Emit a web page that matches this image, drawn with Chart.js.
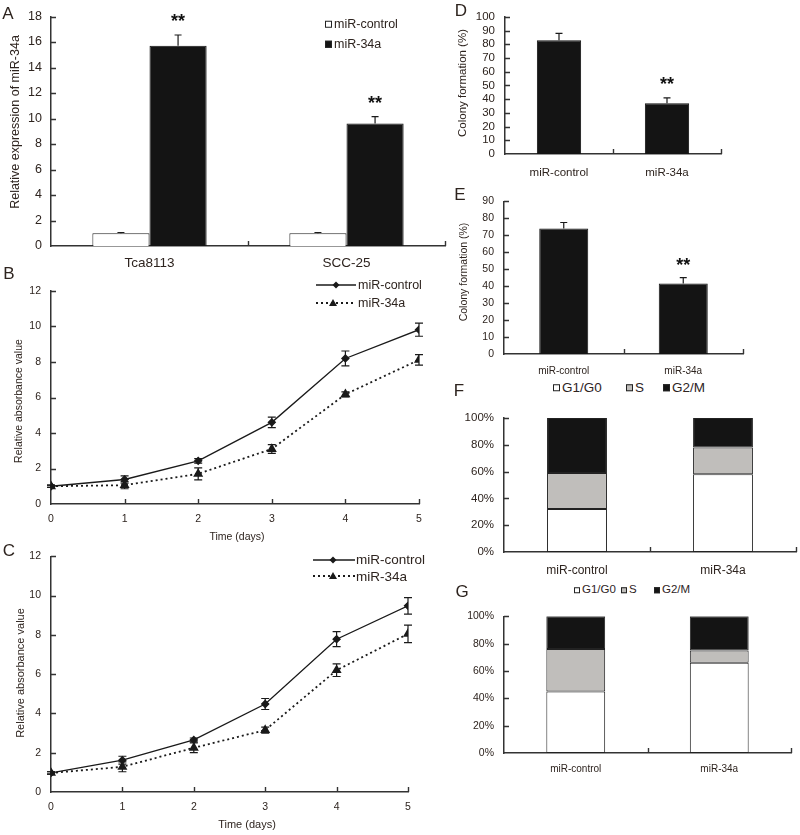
<!DOCTYPE html>
<html><head><meta charset="utf-8">
<script src="https://cdn.jsdelivr.net/npm/chart.js@4"></script>
<style>
body{margin:0;background:#fff;width:800px;height:835px;position:relative;overflow:hidden;font-family:"Liberation Sans",Arial,sans-serif;color:#2e241f}
canvas{position:absolute}
.t{position:absolute;white-space:nowrap;line-height:1;transform:translate(-50%,-50%)}
.r{transform:translate(-50%,-50%) rotate(-90deg)}
.lg{position:absolute;white-space:nowrap;line-height:1;transform:translateY(-50%);display:flex;align-items:center}
.sq{display:inline-block;border:1px solid #222;box-sizing:border-box;margin-right:2px}
</style></head><body>
<canvas id="cA"></canvas><canvas id="cB"></canvas><canvas id="cC"></canvas>
<canvas id="cD"></canvas><canvas id="cE"></canvas><canvas id="cF"></canvas><canvas id="cG"></canvas>

<div class="t" style="left:8px;top:13px;font-size:17px">A</div>
<div class="t" style="left:9px;top:273px;font-size:17px">B</div>
<div class="t" style="left:9px;top:550px;font-size:17px">C</div>
<div class="t" style="left:461px;top:10px;font-size:17px">D</div>
<div class="t" style="left:460px;top:194px;font-size:17px">E</div>
<div class="t" style="left:459px;top:390px;font-size:17px">F</div>
<div class="t" style="left:462px;top:591px;font-size:17px">G</div>

<div class="t r" style="left:15px;top:122px;font-size:12.5px">Relative expression of miR-34a</div>
<div class="t r" style="left:18px;top:401px;font-size:10.5px">Relative absorbance value</div>
<div class="t" style="left:237px;top:536px;font-size:10.5px">Time (days)</div>
<div class="t r" style="left:20px;top:673px;font-size:11px">Relative absorbance value</div>
<div class="t" style="left:247px;top:824px;font-size:11px">Time (days)</div>
<div class="t r" style="left:463px;top:83px;font-size:11.5px">Colony formation (%)</div>
<div class="t r" style="left:463px;top:272px;font-size:10.5px">Colony formation (%)</div>

<!-- legend A -->
<div class="lg" style="left:325px;top:24px;font-size:12.5px"><span class="sq" style="width:7px;height:7px;background:#fff"></span>miR-control</div>
<div class="lg" style="left:325px;top:44px;font-size:12.5px"><span class="sq" style="width:7px;height:7px;background:#141414"></span>miR-34a</div>

<!-- legend B -->
<svg style="position:absolute;left:314px;top:279px" width="44" height="30">
<line x1="2" y1="6" x2="42" y2="6" stroke="#1a1a1a" stroke-width="1.3"/>
<polygon points="22,2.5 25.5,6 22,9.5 18.5,6" fill="#1a1a1a"/>
<line x1="2" y1="24" x2="42" y2="24" stroke="#1a1a1a" stroke-width="1.8" stroke-dasharray="2,3"/>
<polygon points="19,20 23,27 15,27" fill="#1a1a1a"/>
</svg>
<div class="lg" style="left:358px;top:285px;font-size:12.5px">miR-control</div>
<div class="lg" style="left:358px;top:303px;font-size:12.5px">miR-34a</div>

<!-- legend C -->
<svg style="position:absolute;left:311px;top:553px" width="46" height="30">
<line x1="2" y1="7" x2="44" y2="7" stroke="#1a1a1a" stroke-width="1.3"/>
<polygon points="22,3.5 25.5,7 22,10.5 18.5,7" fill="#1a1a1a"/>
<line x1="2" y1="23" x2="44" y2="23" stroke="#1a1a1a" stroke-width="1.8" stroke-dasharray="2,3"/>
<polygon points="22,19 26,26 18,26" fill="#1a1a1a"/>
</svg>
<div class="lg" style="left:356px;top:560px;font-size:13.5px">miR-control</div>
<div class="lg" style="left:356px;top:577px;font-size:13.5px">miR-34a</div>

<!-- legend F -->
<div class="lg" style="left:553px;top:388px;font-size:13.5px"><span class="sq" style="width:7px;height:7px;background:#fff"></span>G1/G0</div>
<div class="lg" style="left:626px;top:388px;font-size:13.5px"><span class="sq" style="width:7px;height:7px;background:#c0bebb"></span>S</div>
<div class="lg" style="left:663px;top:388px;font-size:13.5px"><span class="sq" style="width:7px;height:7px;background:#141414"></span>G2/M</div>
<!-- legend G -->
<div class="lg" style="left:574px;top:590px;font-size:11.5px"><span class="sq" style="width:6px;height:6px;background:#fff"></span>G1/G0</div>
<div class="lg" style="left:621px;top:590px;font-size:11.5px"><span class="sq" style="width:6px;height:6px;background:#c0bebb"></span>S</div>
<div class="lg" style="left:654px;top:590px;font-size:11.5px"><span class="sq" style="width:6px;height:6px;background:#141414"></span>G2/M</div>

<script>
// ---------- DATA ----------
const catsA = ['Tca8113', 'SCC-25'];
const aControl = [1.0, 1.0];
const aControlErr = [0.06, 0.06];
const aMir = [15.7, 9.6];
const aMirErr = [0.85, 0.55];
const aYTicks = [0, 2, 4, 6, 8, 10, 12, 14, 16, 18];

const days = [0, 1, 2, 3, 4, 5];
const bControl = [1.0, 1.38, 2.43, 4.6, 8.2, 9.82];
const bControlErr = [0.06, 0.2, 0.13, 0.3, 0.42, 0.37];
const bMir = [1.0, 1.06, 1.7, 3.1, 6.18, 8.12];
const bMirErr = [0.06, 0.2, 0.34, 0.25, 0.14, 0.3];

const cControl = [0.97, 1.62, 2.65, 4.48, 7.78, 9.48];
const cControlErr = [0.06, 0.2, 0.1, 0.28, 0.38, 0.42];
const cMir = [0.97, 1.28, 2.25, 3.15, 6.2, 8.05];
const cMirErr = [0.06, 0.25, 0.25, 0.15, 0.32, 0.45];
const lineYTicks = [0, 2, 4, 6, 8, 10, 12];

const groups = ['miR-control', 'miR-34a'];
const dColony = [83, 37];
const dErr = [5, 4];
const dYTicks = [0, 10, 20, 30, 40, 50, 60, 70, 80, 90, 100];
const eColony = [74, 41.5];
const eErr = [3.5, 3.5];
const eYTicks = [0, 10, 20, 30, 40, 50, 60, 70, 80, 90];

const phases = ['G1/G0', 'S', 'G2/M'];
const fG1 = [32, 58];
const fS = [27, 20];
const fG2 = [41, 22];
const gG1 = [45, 66];
const gS = [31, 9];
const gG2 = [24, 25];
const pctTicks = [0, 20, 40, 60, 80, 100];

// ---------- STYLE ----------
const TXT = '#2e241f', AX = '#333', BLK = '#141414', GRY = '#c0bebb';
const FONT = '"Liberation Sans", Arial, sans-serif';

// ---------- PLUGINS ----------
const errPlugin = {
  id: 'errbars',
  afterDatasetsDraw(chart) {
    const ctx = chart.ctx, y = chart.scales.y;
    chart.data.datasets.forEach((ds, di) => {
      if (!ds.err) return;
      const meta = chart.getDatasetMeta(di);
      meta.data.forEach((el, i) => {
        const raw = ds.data[i];
        const v = typeof raw === 'object' ? raw.y : raw;
        const e = ds.err[i];
        const cap = ds.errCap || 4;
        const yt = y.getPixelForValue(v + e);
        const yb = y.getPixelForValue(ds.errUp ? v : v - e);
        ctx.save();
        ctx.strokeStyle = '#1a1a1a';
        ctx.lineWidth = 1.2;
        ctx.beginPath();
        ctx.moveTo(el.x, yt); ctx.lineTo(el.x, yb);
        ctx.moveTo(el.x - cap, yt); ctx.lineTo(el.x + cap, yt);
        if (!ds.errUp) { ctx.moveTo(el.x - cap, yb); ctx.lineTo(el.x + cap, yb); }
        ctx.stroke();
        if (ds.stars && ds.stars[i]) {
          ctx.fillStyle = '#111';
          ctx.font = 'bold ' + (ds.starSize || 18) + 'px ' + FONT;
          ctx.textAlign = 'center';
          ctx.textBaseline = 'middle';
          ctx.fillText(ds.stars[i], el.x, yt - (ds.starOff || 13));
        }
        ctx.restore();
      });
    });
  }
};

const tickPlugin = {
  id: 'innerTicks',
  afterDraw(chart) {
    const ctx = chart.ctx, a = chart.chartArea, x = chart.scales.x, y = chart.scales.y;
    const L = 5;
    ctx.save();
    ctx.strokeStyle = AX; ctx.lineWidth = 1.4;
    ctx.beginPath();
    const yv = chart.options.scales.y.tickValues || [];
    yv.forEach(v => {
      if (v === yv[0]) return;
      const py = Math.round(y.getPixelForValue(v)) + 0.5;
      ctx.moveTo(a.left, py); ctx.lineTo(a.left + L, py);
    });
    if (x.type === 'category') {
      const n = chart.data.labels.length;
      const half = (a.right - a.left) / n / 2;
      for (let i = 0; i < n; i++) {
        const px = Math.round(x.getPixelForValue(i) + half) + 0.5;
        ctx.moveTo(px, a.bottom); ctx.lineTo(px, a.bottom - L);
      }
    } else {
      days.forEach(v => {
        if (v === days[0]) return;
        const px = Math.round(x.getPixelForValue(v)) + 0.5;
        ctx.moveTo(px, a.bottom); ctx.lineTo(px, a.bottom - L);
      });
    }
    ctx.stroke();
    ctx.restore();
  }
};

// ---------- HELPER ----------
function mk(id, rect, area, type, data, opt) {
  const c = document.getElementById(id);
  c.width = rect.w; c.height = rect.h;
  c.style.left = rect.x + 'px'; c.style.top = rect.y + 'px';
  c.style.width = rect.w + 'px'; c.style.height = rect.h + 'px';
  const yW = area.l - rect.x, xH = rect.y + rect.h - area.b;
  const yTicks = opt.yTicks;
  const scales = {
    x: Object.assign({
      grid: { display: false, drawTicks: false },
      border: { display: true, color: AX, width: 1.5 },
      ticks: { color: TXT, font: { family: FONT, size: opt.xFont }, padding: opt.xPad, maxRotation: 0, autoSkip: false },
      afterFit: s => { s.height = xH; }
    }, opt.x || {}),
    y: Object.assign({
      min: yTicks[0], max: yTicks[yTicks.length - 1],
      tickValues: yTicks,
      grid: { display: false, drawTicks: false },
      border: { display: true, color: AX, width: 1.5 },
      ticks: { color: TXT, font: { family: FONT, size: opt.yFont }, padding: opt.yPad, autoSkip: false,
               callback: opt.yCb || (v => v) },
      afterBuildTicks: s => { s.ticks = yTicks.map(v => ({ value: v })); },
      afterFit: s => { s.width = yW; }
    }, opt.y || {})
  };
  return new Chart(c, {
    type, data,
    options: {
      responsive: false, animation: false, devicePixelRatio: 1,
      layout: { padding: { left: 0, top: area.t - rect.y, right: rect.x + rect.w - area.r, bottom: 0 } },
      plugins: { legend: { display: false }, tooltip: { enabled: false } },
      scales
    },
    plugins: [errPlugin, tickPlugin]
  });
}

// ---------- A ----------
mk('cA', { x: 0, y: 0, w: 455, h: 280 }, { l: 51, t: 12, r: 445, b: 246 }, 'bar', {
  labels: catsA,
  datasets: [
    { label: 'miR-control', data: aControl, err: aControlErr, errUp: true, errCap: 3.5,
      backgroundColor: '#fff', borderColor: '#222', borderWidth: 1, borderSkipped: 'bottom',
      categoryPercentage: 0.58, barPercentage: 1 },
    { label: 'miR-34a', data: aMir, err: aMirErr, errUp: true, errCap: 3.5, stars: ['**', '**'],
      backgroundColor: BLK, borderColor: '#111', borderWidth: 1, borderSkipped: 'bottom',
      categoryPercentage: 0.58, barPercentage: 1 }
  ]
}, { yTicks: aYTicks, xFont: 13.5, xPad: 9, yFont: 12.5, yPad: 9 });

// ---------- B ----------
function lineData(c, ce, m, me) {
  return {
    datasets: [
      { label: 'miR-control', data: days.map((d, i) => ({ x: d, y: c[i] })), err: ce, errCap: 4,
        borderColor: '#1a1a1a', borderWidth: 1.3, pointStyle: 'rectRot', pointRadius: 3.5,
        pointBackgroundColor: '#1a1a1a', pointBorderColor: '#1a1a1a', tension: 0 },
      { label: 'miR-34a', data: days.map((d, i) => ({ x: d, y: m[i] })), err: me, errCap: 4,
        borderColor: '#1a1a1a', borderWidth: 1.8, borderDash: [2, 3], pointStyle: 'triangle', pointRadius: 4,
        pointBackgroundColor: '#1a1a1a', pointBorderColor: '#1a1a1a', tension: 0 }
    ]
  };
}
const linX = { type: 'linear', min: 0, max: 5, afterBuildTicks: s => { s.ticks = days.map(v => ({ value: v })); } };
mk('cB', { x: 0, y: 270, w: 455, h: 258 }, { l: 51, t: 291, r: 419, b: 504 }, 'line',
  lineData(bControl, bControlErr, bMir, bMirErr),
  { yTicks: lineYTicks, xFont: 10.5, xPad: 9, yFont: 10.5, yPad: 10, x: linX });

// ---------- C ----------
mk('cC', { x: 0, y: 540, w: 455, h: 277 }, { l: 51, t: 556, r: 408, b: 792 }, 'line',
  lineData(cControl, cControlErr, cMir, cMirErr),
  { yTicks: lineYTicks, xFont: 10.5, xPad: 9, yFont: 10.5, yPad: 10, x: linX });

// ---------- D ----------
mk('cD', { x: 456, y: 0, w: 344, h: 185 }, { l: 505, t: 12, r: 721, b: 154 }, 'bar', {
  labels: groups,
  datasets: [{ label: 'Colony formation', data: dColony, err: dErr, errUp: true, errCap: 3.5,
    stars: ['', '**'], starOff: 13,
    backgroundColor: BLK, borderColor: '#111', borderWidth: 1, borderSkipped: 'bottom',
    categoryPercentage: 1, barPercentage: 0.41 }]
}, { yTicks: dYTicks, xFont: 11.5, xPad: 12, yFont: 11.5, yPad: 10 });

// ---------- E ----------
mk('cE', { x: 456, y: 185, w: 344, h: 195 }, { l: 504, t: 192, r: 743, b: 354 }, 'bar', {
  labels: groups,
  datasets: [{ label: 'Colony formation', data: eColony, err: eErr, errUp: true, errCap: 3.5,
    stars: ['', '**'], starOff: 12,
    backgroundColor: BLK, borderColor: '#111', borderWidth: 1, borderSkipped: 'bottom',
    categoryPercentage: 1, barPercentage: 0.41 }]
}, { yTicks: eYTicks, xFont: 10, xPad: 11, yFont: 10.5, yPad: 10 });

// ---------- F / G ----------
function stackData(g1, s, g2) {
  const base = { borderColor: '#222', borderWidth: 1, borderSkipped: false, categoryPercentage: 1, barPercentage: 0.41 };
  return {
    labels: groups,
    datasets: [
      Object.assign({ label: phases[0], data: g1, backgroundColor: '#fff' }, base),
      Object.assign({ label: phases[1], data: s, backgroundColor: GRY }, base),
      Object.assign({ label: phases[2], data: g2, backgroundColor: BLK }, base)
    ]
  };
}
mk('cF', { x: 456, y: 400, w: 344, h: 180 }, { l: 504, t: 418, r: 796, b: 552 }, 'bar',
  stackData(fG1, fS, fG2),
  { yTicks: pctTicks, xFont: 12, xPad: 11, yFont: 11.5, yPad: 10, yCb: v => v + '%',
    x: { stacked: true }, y: { stacked: true } });
mk('cG', { x: 456, y: 600, w: 344, h: 180 }, { l: 504, t: 613, r: 791, b: 753 }, 'bar',
  stackData(gG1, gS, gG2),
  { yTicks: pctTicks, xFont: 10, xPad: 10, yFont: 10.5, yPad: 10, yCb: v => v + '%',
    x: { stacked: true }, y: { stacked: true } });
</script>
</body></html>
